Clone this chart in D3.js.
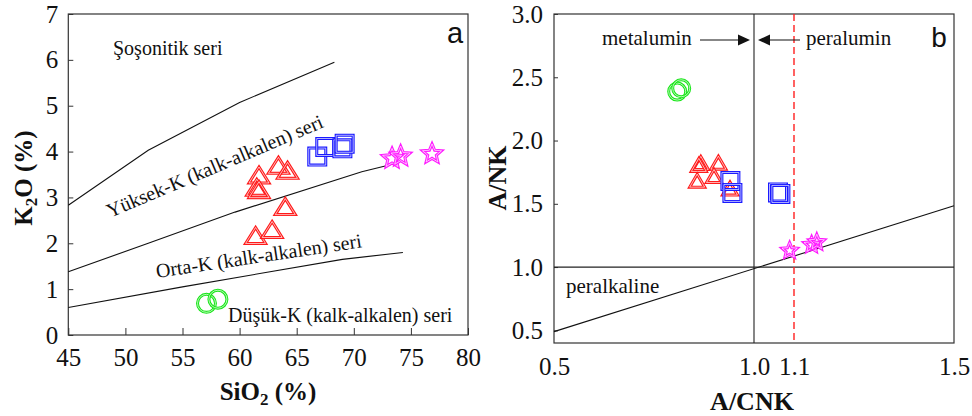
<!DOCTYPE html>
<html>
<head>
<meta charset="utf-8">
<script src="https://cdn.jsdelivr.net/npm/d3@7"></script>
<style>
  html, body { margin: 0; padding: 0; background: #fff; }
  svg { display: block; }
</style>
</head>
<body>
<svg id="chart" width="972" height="416"></svg>
<script>
// ---- Panel a: SiO2 vs K2O ----
const circleSiO2 = [57.1, 58.1];
const circleK2O  = [0.69, 0.78];
const triSiO2 = [61.7, 61.5, 61.7, 63.4, 64.2, 64.0, 61.4, 62.85];
const triK2O  = [3.49, 3.22, 3.17, 3.70, 3.59, 2.80, 2.17, 2.30];
const sqSiO2 = [66.8, 67.5, 69.0, 69.2];
const sqK2O  = [3.89, 4.10, 4.07, 4.17];
const starSiO2 = [73.35, 74.1, 76.85];
const starK2O  = [3.85, 3.90, 3.95];

// series boundary lines
const shoSiO2 = [45, 52, 60, 68.3];
const shoK2O  = [2.83, 4.03, 5.07, 5.95];
const highSiO2 = [45, 52, 59.6, 70.7, 74];
const highK2O  = [1.38, 2.0, 2.68, 3.56, 3.76];
const lowSiO2 = [45, 55, 69, 74.3];
const lowK2O  = [0.6, 1.05, 1.65, 1.8];

const xTicksA = [45, 50, 55, 60, 65, 70, 75, 80];
const yTicksA = [0, 1, 2, 3, 4, 5, 6, 7];

// ---- Panel b: A/CNK vs A/NK ----
const circleACNK = [0.808, 0.818];
const circleANK  = [2.387, 2.413];
const triACNK = [0.867, 0.862, 0.911, 0.858, 0.900, 0.940];
const triANK  = [1.823, 1.807, 1.825, 1.683, 1.720, 1.620];
const sqACNK = [0.941, 0.946, 1.060, 1.066];
const sqANK  = [1.680, 1.586, 1.590, 1.578];
const starACNK = [1.089, 1.144, 1.157];
const starANK  = [1.130, 1.175, 1.196];

const diagACNK = [0.5, 1.5];
const diagANK  = [0.49, 1.485];

const xTicksB = [0.5, 1.0, 1.1, 1.5];
const yTicksB = [0.5, 1.0, 1.5, 2.0, 2.5, 3.0];

const GREEN = "#19e619", RED = "#ff1a1a", BLUE = "#1a1aff", MAGENTA = "#ff1aff";
const SERIF = "'Times New Roman', Times, serif";
const SANS = "'Liberation Sans', Arial, sans-serif";

const svg = d3.select("#chart");
const zip = (a, b) => a.map((v, i) => [v, b[i]]);

function label(g, size, family = SERIF) {
  return g.append("text").style("font-family", family).style("font-size", size + "px").attr("fill", "#111");
}

// marker path builders, centred on the bounding box
function triPath(w, h) {
  return `M0,${-h / 2}L${w / 2},${h / 2}L${-w / 2},${h / 2}Z`;
}
function sqPath(s) {
  return `M${-s / 2},${-s / 2}H${s / 2}V${s / 2}H${-s / 2}Z`;
}
function circPath(r) {
  return `M${r},0A${r},${r} 0 1,1 ${-r},0A${r},${r} 0 1,1 ${r},0Z`;
}
function starPath(R) {
  const r = R * 0.45, pts = [];
  for (let i = 0; i < 10; i++) {
    const a = -Math.PI / 2 + i * Math.PI / 5;
    const rr = i % 2 ? r : R;
    pts.push([rr * Math.cos(a), rr * Math.sin(a)]);
  }
  return "M" + pts.map(p => p.join(",")).join("L") + "Z";
}

// draws markers with a doubled outline look
function drawMarkers(g, pts, x, y, path, color) {
  const m = g.append("g").selectAll("g").data(pts).join("g")
    .attr("transform", d => `translate(${x(d[0])},${y(d[1])})`);
  m.append("path").attr("d", path).attr("fill", "none")
    .attr("stroke", color).attr("stroke-width", 3).attr("stroke-linejoin", "miter");
  m.append("path").attr("d", path).attr("fill", "none")
    .attr("stroke", "#fff").attr("stroke-width", 0.8).attr("opacity", 0.85);
}

function styleTicks(g, size) {
  g.select(".domain").remove();
  g.selectAll("text").style("font-family", SERIF).style("font-size", size + "px").attr("fill", "#111");
  g.selectAll("line").attr("stroke", "#333");
}

// ================= Panel a =================
const xA = d3.scaleLinear().domain([45, 80]).range([68.3, 468]);
const yA = d3.scaleLinear().domain([0, 7]).range([335, 14]);
const gA = svg.append("g");

gA.append("g").attr("transform", "translate(0,335)")
  .call(d3.axisBottom(xA).tickValues(xTicksA).tickSize(-7).tickPadding(13).tickFormat(d3.format("d")))
  .call(g => styleTicks(g, 25));
gA.append("g").attr("transform", "translate(68.3,0)")
  .call(d3.axisLeft(yA).tickValues(yTicksA).tickSize(-5).tickPadding(10).tickFormat(d3.format("d")))
  .call(g => styleTicks(g, 25));

gA.append("rect").attr("x", xA(45)).attr("y", yA(7))
  .attr("width", xA(80) - xA(45)).attr("height", yA(0) - yA(7))
  .attr("fill", "none").attr("stroke", "#333").attr("stroke-width", 1.2);

const lineA = d3.line().x(d => xA(d[0])).y(d => yA(d[1]));
[[shoSiO2, shoK2O], [highSiO2, highK2O], [lowSiO2, lowK2O]].forEach(([a, b]) => {
  gA.append("path").attr("d", lineA(zip(a, b)))
    .attr("fill", "none").attr("stroke", "#111").attr("stroke-width", 1.1);
});

label(gA, 20).attr("x", 113).attr("y", 55).text("Şoşonitik seri");
label(gA, 20).attr("transform", "translate(110,218) rotate(-23)")
  .text("Yüksek-K (kalk-alkalen) seri");
label(gA, 20).attr("transform", "translate(157,278) rotate(-8.5)")
  .text("Orta-K (kalk-alkalen) seri");
label(gA, 20).attr("x", 228).attr("y", 322).text("Düşük-K (kalk-alkalen) seri");

label(gA, 29, SANS).attr("x", 455).attr("y", 43).attr("text-anchor", "middle").text("a");

drawMarkers(gA, zip(circleSiO2, circleK2O), xA, yA, circPath(9), GREEN);
drawMarkers(gA, zip(triSiO2, triK2O), xA, yA, triPath(20, 16), RED);
drawMarkers(gA, zip(sqSiO2, sqK2O), xA, yA, sqPath(17), BLUE);
drawMarkers(gA, zip(starSiO2, starK2O), xA, yA, starPath(10), MAGENTA);

// axis titles
const tA = label(gA, 25).attr("x", 268).attr("y", 400).attr("text-anchor", "middle")
  .style("font-weight", "bold");
tA.append("tspan").text("SiO");
tA.append("tspan").style("font-size", "17px").attr("dy", 5).text("2");
tA.append("tspan").attr("dy", -5).text(" (%)");

const tAy = label(gA, 25).attr("transform", "translate(32,178) rotate(-90)")
  .attr("text-anchor", "middle").style("font-weight", "bold");
tAy.append("tspan").text("K");
tAy.append("tspan").style("font-size", "17px").attr("dy", 5).text("2");
tAy.append("tspan").attr("dy", -5).text("O (%)");

// ================= Panel b =================
const xB = d3.scaleLinear().domain([0.5, 1.5]).range([554, 954]);
const yB = d3.scaleLinear().domain([0.4, 3.0]).range([343, 14]);
const gB = svg.append("g");

gB.append("g").attr("transform", "translate(0,343)")
  .call(d3.axisBottom(xB).tickValues(xTicksB).tickSize(0).tickPadding(14).tickFormat(d3.format(".1f")))
  .call(g => styleTicks(g, 25));
gB.append("g").attr("transform", "translate(554,0)")
  .call(d3.axisLeft(yB).tickValues(yTicksB).tickSize(-4).tickPadding(11).tickFormat(d3.format(".1f")))
  .call(g => styleTicks(g, 25));

gB.append("rect").attr("x", xB(0.5)).attr("y", yB(3.0))
  .attr("width", xB(1.5) - xB(0.5)).attr("height", yB(0.4) - yB(3.0))
  .attr("fill", "none").attr("stroke", "#333").attr("stroke-width", 1.2);

// reference lines
gB.append("line").attr("x1", xB(1.0)).attr("x2", xB(1.0)).attr("y1", yB(3.0)).attr("y2", yB(0.4))
  .attr("stroke", "#222").attr("stroke-width", 1.1);
gB.append("line").attr("x1", xB(0.5)).attr("x2", xB(1.5)).attr("y1", yB(1.0)).attr("y2", yB(1.0))
  .attr("stroke", "#222").attr("stroke-width", 1.1);
gB.append("line").attr("x1", xB(1.1)).attr("x2", xB(1.1)).attr("y1", yB(3.0)).attr("y2", yB(0.4))
  .attr("stroke", "#ff2020").attr("stroke-width", 1.4).attr("stroke-dasharray", "7,4");
gB.append("path").attr("d", d3.line().x(d => xB(d[0])).y(d => yB(d[1]))(zip(diagACNK, diagANK)))
  .attr("fill", "none").attr("stroke", "#111").attr("stroke-width", 1.1);

// field labels and arrows
label(gB, 21).attr("x", 602).attr("y", 45).text("metalumin");
label(gB, 21).attr("x", 806).attr("y", 45).text("peralumin");
label(gB, 21).attr("x", 566).attr("y", 293).text("peralkaline");

const arrowY = 40;
gB.append("line").attr("x1", 700).attr("x2", 742).attr("y1", arrowY).attr("y2", arrowY)
  .attr("stroke", "#111").attr("stroke-width", 1.2);
gB.append("path").attr("d", `M750,${arrowY}L738,${arrowY - 5.5}L738,${arrowY + 5.5}Z`).attr("fill", "#111");
gB.append("line").attr("x1", 766).attr("x2", 800).attr("y1", arrowY).attr("y2", arrowY)
  .attr("stroke", "#111").attr("stroke-width", 1.2);
gB.append("path").attr("d", `M758,${arrowY}L770,${arrowY - 5.5}L770,${arrowY + 5.5}Z`).attr("fill", "#111");

label(gB, 28, SANS).attr("x", 939).attr("y", 47).attr("text-anchor", "middle").text("b");

drawMarkers(gB, zip(circleACNK, circleANK), xB, yB, circPath(8.5), GREEN);
drawMarkers(gB, zip(triACNK, triANK), xB, yB, triPath(15, 13), RED);
drawMarkers(gB, zip(sqACNK, sqANK), xB, yB, sqPath(17), BLUE);
drawMarkers(gB, zip(starACNK, starANK), xB, yB, starPath(8), MAGENTA);

label(gB, 26).attr("x", 752).attr("y", 410).attr("text-anchor", "middle")
  .style("font-weight", "bold").text("A/CNK");
label(gB, 26).attr("transform", "translate(506,178) rotate(-90)")
  .attr("text-anchor", "middle").style("font-weight", "bold").text("A/NK");
</script>
</body>
</html>
